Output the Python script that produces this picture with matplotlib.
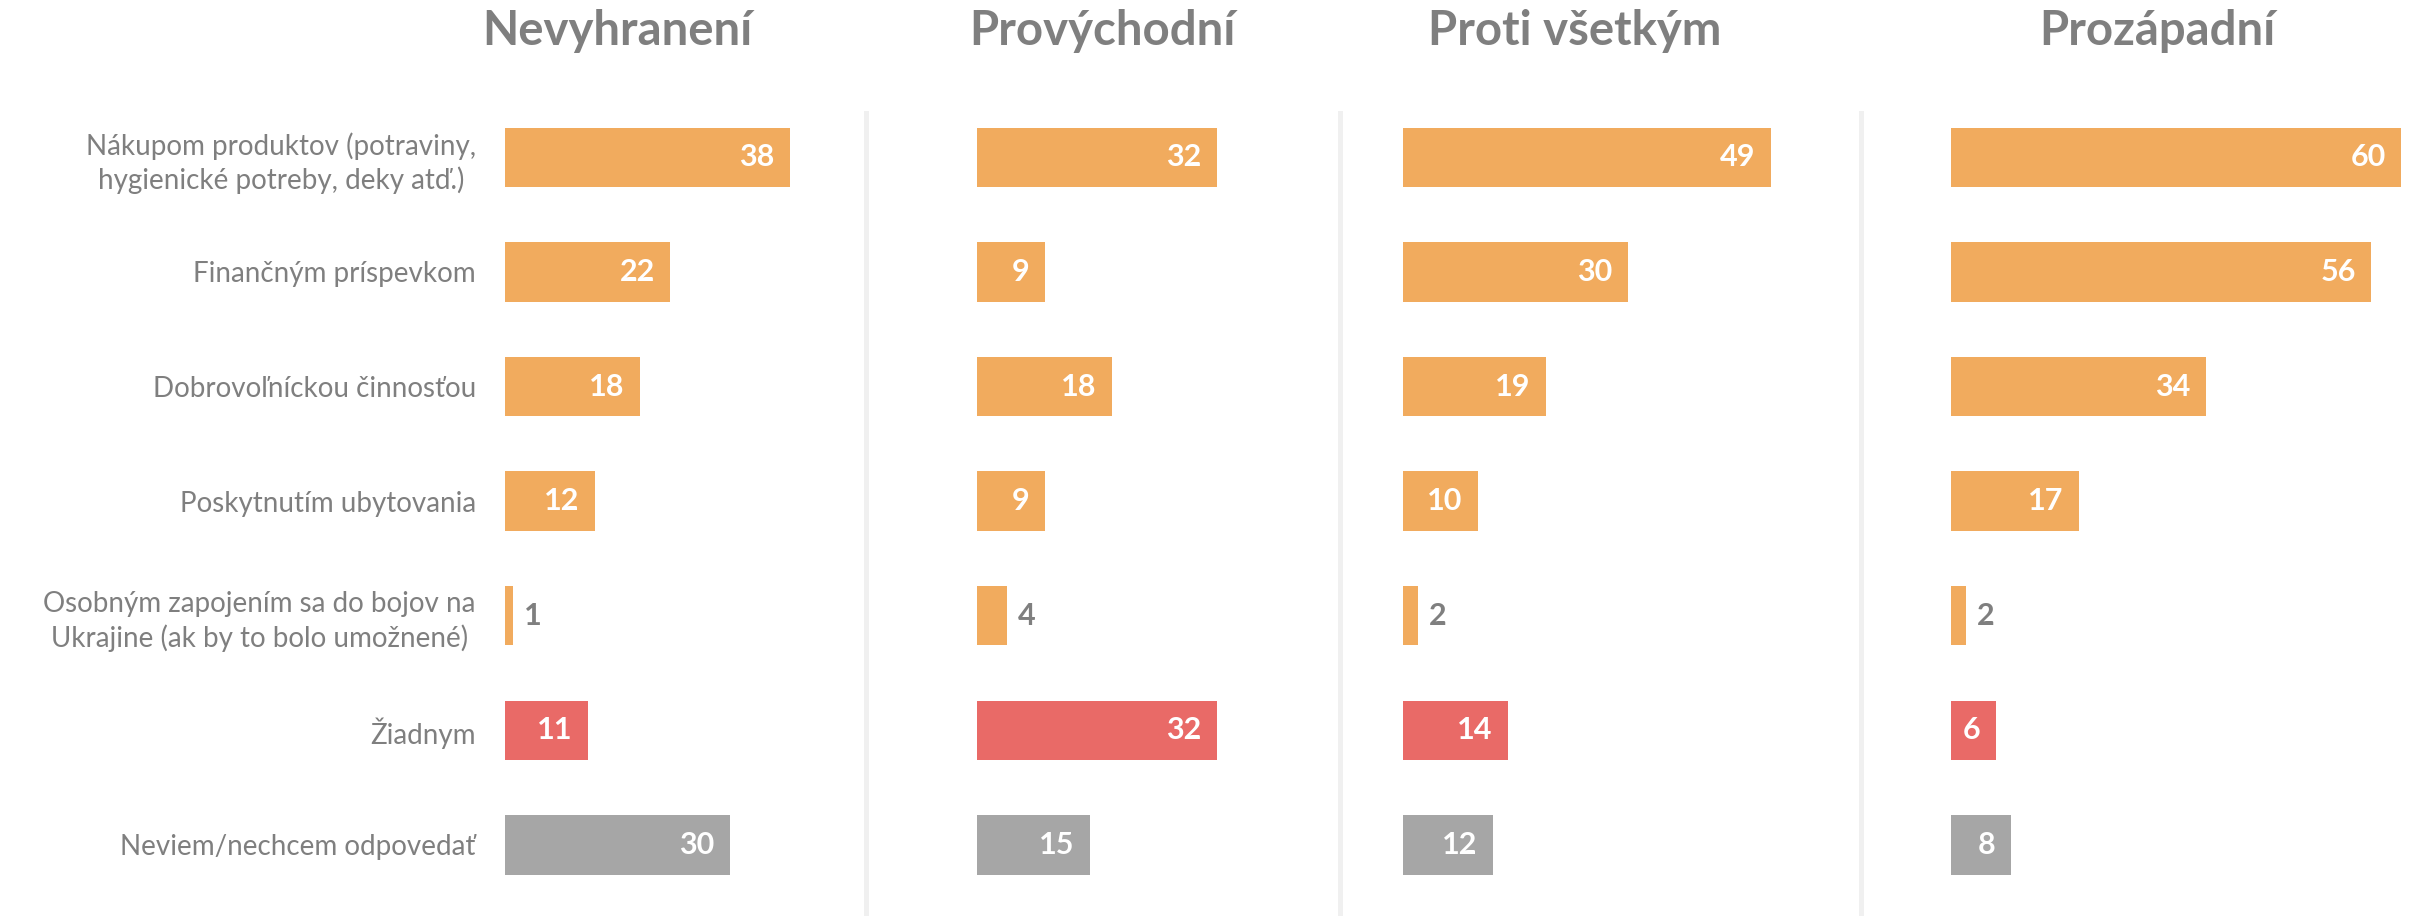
import matplotlib.pyplot as plt
from matplotlib.lines import Line2D

categories = [
    "Nákupom produktov (potraviny,\nhygienické potreby, deky atď.)",
    "Finančným príspevkom",
    "Dobrovoľníckou činnosťou",
    "Poskytnutím ubytovania",
    "Osobným zapojením sa do bojov na\nUkrajine (ak by to bolo umožnené)",
    "Žiadnym",
    "Neviem/nechcem odpovedať",
]
groups = ["Nevyhranení", "Provýchodní", "Proti všetkým", "Prozápadní"]

nevyhraneni = [38, 22, 18, 12, 1, 11, 30]
provychodni = [32, 9, 18, 9, 4, 32, 15]
proti_vsetkym = [49, 30, 19, 10, 2, 14, 12]
prozapadni = [60, 56, 34, 17, 2, 6, 8]
values = [nevyhraneni, provychodni, proti_vsetkym, prozapadni]

ORANGE = "#F1AB5E"
RED = "#E96A67"
GREY_BAR = "#A6A6A6"
TEXT_GREY = "#7F7F7F"
bar_colors = [ORANGE] * 5 + [RED, GREY_BAR]

plt.rcParams['font.family'] = ['Lato', 'DejaVu Sans']

W, H = 2412, 916
fig = plt.figure(figsize=(W / 100, H / 100), dpi=100)

# pixel layout of the four panels
origins = [505, 977, 1403, 1951]
px_per_unit = 7.5
xmax = 62
row_top, row_step = 157.3, 114.6
ax_top = row_top - row_step / 2
ax_bot = row_top + row_step * 6.5
title_x = [617, 1102, 1575, 2157]
sep_x = [866, 1340, 1861]

for k, (vals, name) in enumerate(zip(values, groups)):
    left = origins[k] / W
    width = xmax * px_per_unit / W
    ax = fig.add_axes([left, 1 - ax_bot / H, width, (ax_bot - ax_top) / H])
    ax.patch.set_alpha(0)
    ypos = list(range(len(categories)))
    ax.barh(ypos, vals, height=0.52, color=bar_colors)
    ax.set_xlim(0, xmax)
    ax.set_ylim(len(categories) - 0.5, -0.5)
    for s in ax.spines.values():
        s.set_visible(False)
    ax.set_xticks([])
    if k == 0:
        ax.set_yticks(ypos, labels=categories)
        ax.tick_params(axis='y', length=0, pad=21, labelsize=20, labelcolor=TEXT_GREY)
        for t in ax.get_yticklabels():
            t.set_multialignment('center')
            t.set_linespacing(1.3)
    else:
        ax.set_yticks([])
    for i, v in enumerate(vals):
        if v >= 5:
            ax.annotate(str(v), (v, i), xytext=(-11, 0), textcoords='offset points',
                        ha='right', va='center', color='white', fontsize=22,
                        fontweight='bold')
        else:
            ax.annotate(str(v), (v, i), xytext=(8, 0), textcoords='offset points',
                        ha='left', va='center', color=TEXT_GREY, fontsize=22,
                        fontweight='bold')
    fig.text(title_x[k] / W, 1 - 45 / H, name, ha='center', va='baseline',
             fontsize=34, fontweight='bold', color=TEXT_GREY)

for x in sep_x:
    fig.add_artist(Line2D([x / W, x / W], [1 - 113 / H, 0], color='#F0F0F0',
                          linewidth=3.6, transform=fig.transFigure))

fig.savefig("out.png", dpi=100)
